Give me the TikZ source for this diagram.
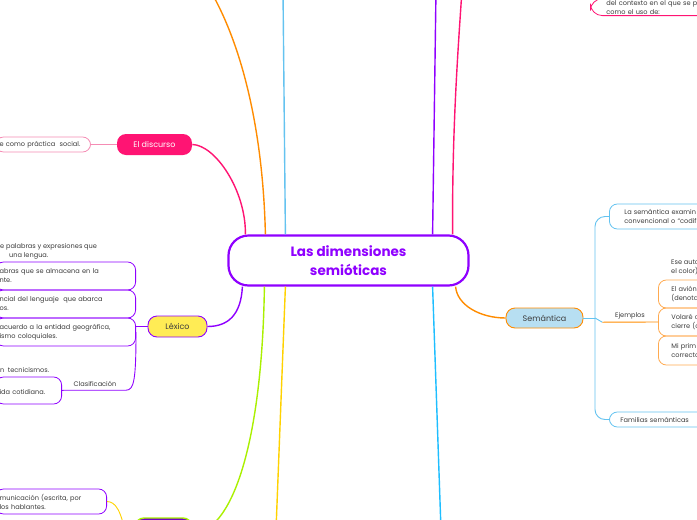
\documentclass[tikz,border=0pt]{standalone}
\usepackage{fontspec}
\setmainfont{Poppins}
\usepackage{tikz}
\definecolor{mviolet}{RGB}{143,0,255}
\definecolor{mpink}{RGB}{255,20,115}
\definecolor{mpinklt}{RGB}{245,140,180}
\definecolor{morange}{RGB}{255,140,0}
\definecolor{morangelt}{RGB}{255,170,80}
\definecolor{msky}{RGB}{100,195,240}
\definecolor{mblue}{RGB}{30,190,255}
\definecolor{mlime}{RGB}{170,240,0}
\definecolor{myellow}{RGB}{255,210,0}
\definecolor{lexfill}{RGB}{255,236,85}
\definecolor{semfill}{RGB}{183,223,242}
\definecolor{leaftext}{RGB}{60,60,60}

\begin{document}
\begin{tikzpicture}[x=1pt, y=-1pt,
  every node/.style={font=\fontsize{6.6}{9}\selectfont, text=leaftext},
  leaf/.style={draw, rounded corners=8pt, align=left, inner xsep=4pt, inner ysep=2pt, line width=0.8pt},
  topic/.style={rounded corners=9pt, minimum height=21pt, line width=0.9pt, font=\fontsize{8}{10}\selectfont},
  branch/.style={line width=1.4pt},
  twig/.style={line width=0.9pt}]
  \useasboundingbox (0,0) rectangle (697,520);
  \clip (0,0) rectangle (697,520);
  \fill[white] (0,0) rectangle (697,520);

  \node[draw=mviolet, line width=2.2pt, rounded corners=20pt, fill=white, text=mviolet, align=center,
        minimum width=240pt, minimum height=50pt, font=\fontsize{13.5}{19}\selectfont\bfseries]
    (dim) at (348.5,260.5) {Las dimensiones\\semióticas};

  \node[topic, fill=mpink, text=white, minimum width=75pt] (disc) at (154.5,144.5) {El discurso};
  \node[topic, draw=mviolet, fill=lexfill, minimum width=59pt] (lex) at (177.5,326.5) {Léxico};
  \node[topic, draw=morange, fill=semfill, minimum width=77pt, minimum height=20pt] (sem) at (544.5,318) {Semántica};
  \node[topic, draw=mlime, line width=1.4pt, fill=mviolet!80!black, minimum width=57pt, minimum height=30pt] (bnode) at (163.5,533) {};

  \node[leaf, draw=mpinklt, anchor=east, text width=87pt, minimum height=15pt] (dc) at (91,144.5) {e como práctica\ \ social.};

  \node[anchor=west, inner sep=0pt] (lx1) at (0,251.5)
    {\begin{tabular}{@{}l@{}}e palabras y expresiones que\\\hspace*{9pt}una lengua.\end{tabular}};
  \node[leaf, draw=mviolet, anchor=east, text width=132pt, minimum height=28pt] (lx2) at (136,276) {abras que se almacena en la\\nte.};
  \node[leaf, draw=mviolet, anchor=east, text width=132pt, minimum height=28pt] (lx3) at (136,304) {ncial del lenguaje\ \ que abarca\\os.};
  \node[leaf, draw=mviolet, anchor=east, text width=132pt, minimum height=28pt] (lx4) at (136,332) {acuerdo a la entidad geográfica,\\ismo coloquiales.};
  \node[minimum width=62pt, minimum height=12pt, inner sep=0pt] (clas) at (95,384) {Clasificación};
  \node[anchor=west, align=left, inner xsep=3pt] (cl1) at (-3,370) {n\ \ tecnicismos.};
  \node[leaf, draw=mviolet, anchor=east, text width=58pt, minimum height=27pt] (cl2) at (62,390.5) {\mbox{}\\ida cotidiana.};
  \node[leaf, draw=mviolet, anchor=east, text width=103pt, minimum height=25pt] (bl) at (107,501.5) {municación (escrita, por\\los hablantes.};

  \node[leaf, draw=mpink, rounded corners=12pt, anchor=south west, inner xsep=16pt, inner ysep=1.5pt, text width=120pt] (ctx) at (590,16) {del contexto en el que se p\\como el uso de:};

  \node[leaf, draw=msky, anchor=west, inner xsep=15pt, text width=90pt, minimum height=25pt] (sdef) at (609,216.5) {La semántica examin\\convencional o ``codif};
  \node[minimum width=55pt, minimum height=12pt, inner sep=0pt] (ej) at (630,316) {Ejemplos};
  \node[anchor=west, align=left, inner xsep=13pt] (ex0) at (658,267.5) {Ese auto\\el color)};
  \node[leaf, draw=morangelt, anchor=west, inner xsep=13pt, text width=60pt, minimum height=28pt] (ex1) at (658,294) {El avión\\(denota};
  \node[leaf, draw=morangelt, anchor=west, inner xsep=13pt, text width=60pt, minimum height=28pt] (ex2) at (658,322) {Volaré c\\cierre (c};
  \node[leaf, draw=morangelt, anchor=west, inner xsep=13pt, text width=60pt, minimum height=29pt] (ex3) at (658,350.5) {Mi prim\\correcto};
  \node[leaf, draw=msky, anchor=west, inner xsep=11pt, text width=90pt, minimum height=15pt] (fam) at (609,419.5) {Familias semánticas};

  \coordinate (upO) at (210,-10);
  \coordinate (upB) at (283,-10);
  \coordinate (upV) at (436,-10);
  \coordinate (upP) at (462,-10);
  \coordinate (dnY) at (276,530);
  \coordinate (dnB) at (441,530);
  \coordinate (dnY2) at (127,540);
  \coordinate (jn) at (595,318);

  \draw[branch, mpink] ([xshift=18pt]dim.north west) .. controls (246,190) and (215,145) .. (disc.east);
  \draw[branch, morange] ([xshift=38pt]dim.north west) .. controls (263,130) and (242,45) .. (upO);
  \draw[branch, msky] ([xshift=58pt]dim.north west) -- (upB);
  \draw[branch, mviolet] ([xshift=-37pt]dim.north east) -- (upV);
  \draw[branch, mpink] ([xshift=-17pt]dim.north east) .. controls (452,130) and (458,50) .. (upP);

  \draw[branch, mviolet] ([xshift=15pt]dim.south west) .. controls (241,315) and (228,326.5) .. (lex.east);
  \draw[branch, mlime] ([xshift=37pt]dim.south west) .. controls (262,450) and (230,533) .. (bnode.east);
  \draw[branch, myellow] ([xshift=58pt]dim.south west) -- (dnY);
  \draw[branch, mblue] ([xshift=-37pt]dim.south east) -- (dnB);
  \draw[branch, morange] ([xshift=-14pt]dim.south east) .. controls (457,305) and (480,318) .. (sem.west);

  \draw[line width=1.6pt, mpinklt] (dc.east) -- (disc.west);
  \draw[twig, mviolet] (lex.west) -- (lex.west -| lx4.east);
  \draw[twig, mviolet] (lx4.east) .. controls (136,380) and (134,390) .. (clas.south east);
  \draw[twig, mviolet] (clas.south east) -- (clas.south west) -- (cl2.east);
  \draw[twig, myellow] (bl.east) .. controls (116,502) and (121,510) .. (dnY2);

  \draw[twig, msky] (sem.east) -- (jn);
  \draw[twig, msky, rounded corners=10pt] (jn) |- (sdef.west);
  \draw[twig, msky, rounded corners=10pt] (jn) |- (fam.west);
  \draw[twig, msky] (jn) -- (ej.south west);
  \draw[twig, morange] (ej.south west) -- (ex2.west);
\end{tikzpicture}
\end{document}
